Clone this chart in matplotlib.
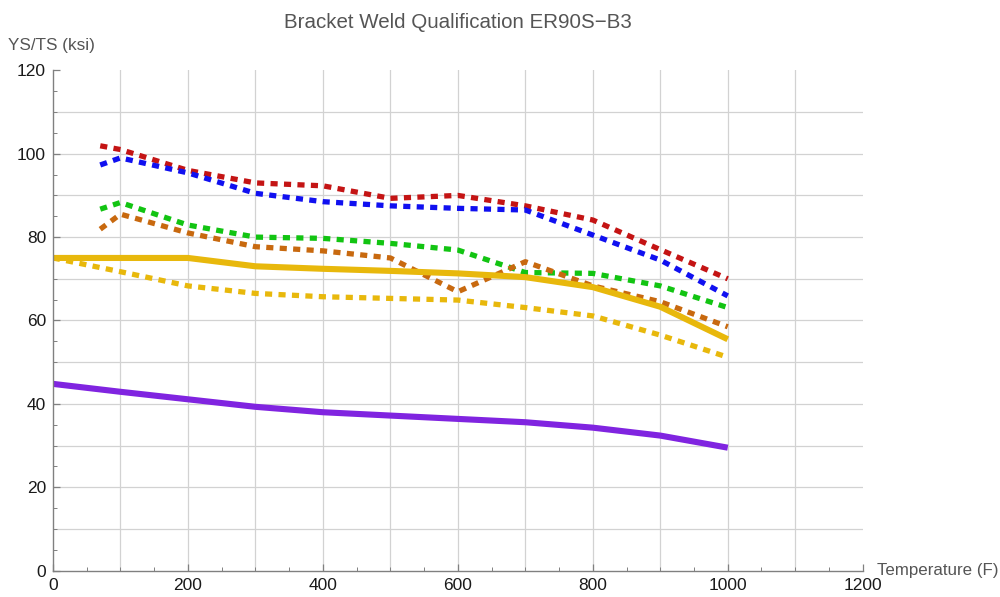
import numpy as np
import matplotlib.pyplot as plt
from matplotlib.ticker import MultipleLocator

plt.rcParams['font.family'] = ['Liberation Sans', 'DejaVu Sans']

# ---------------- data ----------------
temp_weld = [70, 100, 200, 300, 400, 500, 600, 700, 800, 900, 1000]
ts_red = [101.9, 101.0, 96.0, 93.0, 92.3, 89.3, 90.0, 87.5, 84.1, 77.0, 70.0]
ts_blue = [97.3, 99.0, 95.4, 90.5, 88.5, 87.5, 86.9, 86.5, 80.5, 74.5, 65.9]
ys_green = [86.7, 88.3, 82.9, 80.0, 79.7, 78.5, 76.9, 71.5, 71.3, 68.3, 63.1]
ys_orange = [81.9, 85.5, 81.0, 77.7, 76.7, 75.0, 66.9, 74.1, 68.3, 64.5, 58.5]

temp_base = [0, 100, 200, 300, 400, 500, 600, 700, 800, 900, 1000]
ts_min = [75.0, 75.0, 75.0, 73.0, 72.4, 71.9, 71.3, 70.4, 68.0, 63.3, 55.5]
ts_base = [75.0, 71.7, 68.3, 66.5, 65.7, 65.3, 64.9, 63.1, 61.1, 56.5, 51.2]
ys_min = [44.8, 42.9, 41.1, 39.3, 38.0, 37.2, 36.4, 35.6, 34.3, 32.4, 29.5]

C_RED = "#c41414"
C_BLUE = "#1010f0"
C_GREEN = "#12c412"
C_ORANGE = "#c8690f"
C_YELLOW = "#e8b80c"
C_PURPLE = "#8024e0"

# ---------------- figure ----------------
fig = plt.figure(figsize=(10, 5.97), dpi=100)
ax = fig.add_axes([0.053, 0.0441, 0.8097, 0.8381])

dots = (0, (1.35, 1.2))
lw = 3.8
ax.plot(temp_weld, ts_red, color=C_RED, lw=lw, ls=dots, dash_capstyle="butt")
ax.plot(temp_weld, ts_blue, color=C_BLUE, lw=lw, ls=dots, dash_capstyle="butt")
ax.plot(temp_weld, ys_green, color=C_GREEN, lw=lw, ls=dots, dash_capstyle="butt")
ax.plot(temp_weld, ys_orange, color=C_ORANGE, lw=lw, ls=dots, dash_capstyle="butt")
ax.plot(temp_base, ts_base, color=C_YELLOW, lw=lw, ls=dots, dash_capstyle="butt")
ax.plot(temp_base, ts_min, color=C_YELLOW, lw=4.4, solid_capstyle="butt")
ax.plot(temp_base, ys_min, color=C_PURPLE, lw=4.4, solid_capstyle="butt")

ax.set_xlim(0, 1200)
ax.set_ylim(0, 120)

ax.xaxis.set_major_locator(MultipleLocator(200))
ax.xaxis.set_minor_locator(MultipleLocator(50))
ax.yaxis.set_major_locator(MultipleLocator(20))
ax.yaxis.set_minor_locator(MultipleLocator(5))

# grid every 100 F / 10 ksi like the original
for gx in range(100, 1200, 100):
    ax.axvline(gx, color="#d2d2d2", lw=0.9, zorder=0)
for gy in range(10, 120, 10):
    ax.axhline(gy, color="#d2d2d2", lw=0.9, zorder=0)

for side in ["top", "right"]:
    ax.spines[side].set_visible(False)
for side in ["left", "bottom"]:
    ax.spines[side].set_color("#808080")
    ax.spines[side].set_linewidth(1.0)

ax.tick_params(which="major", direction="in", length=5, width=0.9,
               color="#808080", labelsize=12.5, labelcolor="#1a1a1a", pad=5)
ax.tick_params(which="minor", direction="in", length=3, width=0.7,
               color="#808080")

fig.text(0.458, 0.963, "Bracket Weld Qualification ER90S\u2212B3",
         ha="center", va="center", fontsize=14.8, color="#555555")
fig.text(0.008, 0.924, "YS/TS (ksi)", ha="left", va="center",
         fontsize=12.3, color="#555555")
fig.text(0.877, 0.045, "Temperature (F)", ha="left", va="center",
         fontsize=12.2, color="#555555")

plt.savefig("out.png", dpi=100, facecolor="white")
